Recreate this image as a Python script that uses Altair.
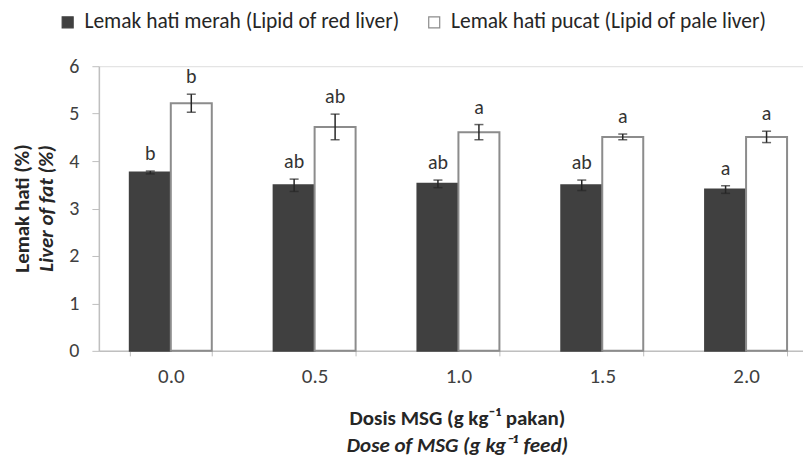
import altair as alt
import pandas as pd

doses = ["0.0", "0.5", "1.0", "1.5", "2.0"]
series_names = ["Lemak hati merah (Lipid of red liver)", "Lemak hati pucat (Lipid of pale liver)"]
red = [3.76, 3.49, 3.52, 3.49, 3.40]
red_err = [0.03, 0.13, 0.08, 0.11, 0.08]
pale = [5.22, 4.72, 4.61, 4.51, 4.51]
pale_err = [0.19, 0.27, 0.16, 0.06, 0.12]
red_letters = ["b", "ab", "ab", "ab", "a"]
pale_letters = ["b", "ab", "a", "a", "a"]
y_ticks = [0, 1, 2, 3, 4, 5, 6]
y_title = ["Lemak hati (%)", "Liver of fat (%)"]
x_title = ["Dosis MSG (g kg\u207b\u00b9 pakan)", "Dose of MSG (g kg\u207b\u00b9 feed)"]

FONT = "Carlito, 'Liberation Sans Narrow', 'Open Sans', sans-serif"

rows = []
for i, d in enumerate(doses):
    rows.append({"dose": d, "series": series_names[0], "val": red[i], "lo": red[i] - red_err[i],
                 "hi": red[i] + red_err[i], "letter": red_letters[i]})
    rows.append({"dose": d, "series": series_names[1], "val": pale[i], "lo": pale[i] - pale_err[i],
                 "hi": pale[i] + pale_err[i], "letter": pale_letters[i]})
df = pd.DataFrame(rows)

W, H = 705, 285

xs = alt.X("dose:N", sort=doses,
           scale=alt.Scale(range=[0, 720], paddingInner=0.43, paddingOuter=0.215),
           axis=alt.Axis(title=None, labelAngle=0, tickBand="extent"))
xoff = alt.XOffset("series:N", sort=series_names, scale=alt.Scale(paddingInner=0, paddingOuter=0))
yscale = alt.Scale(domain=[0, 6], nice=False)
yaxis = alt.Axis(title=None, values=y_ticks, grid=False)

base = alt.Chart(df)

bars = base.mark_bar(strokeWidth=2).encode(
    x=xs,
    xOffset=xoff,
    y=alt.Y("val:Q", scale=yscale, axis=yaxis),
    fill=alt.Fill("series:N", sort=series_names,
                  scale=alt.Scale(domain=series_names, range=["#404040", "#ffffff"]),
                  legend=alt.Legend(title=None, orient="none", legendX=-42, legendY=-55,
                                    direction="horizontal", symbolType="square", symbolSize=121,
                                    labelFontSize=21.5, labelFont=FONT, labelColor="#262626",
                                    labelLimit=500, columnPadding=24, labelOffset=6,
                                    symbolStrokeWidth=1.2)),
    stroke=alt.Stroke("series:N", sort=series_names,
                      scale=alt.Scale(domain=series_names, range=["#404040", "#8c8c8c"]),
                      legend=None),
)

err = base.mark_rule(color="#262626", strokeWidth=1.5).encode(
    x=xs, xOffset=xoff, y=alt.Y("lo:Q", scale=yscale, axis=yaxis), y2="hi:Q")
cap_hi = base.mark_tick(color="#262626", thickness=1.5, size=9).encode(
    x=xs, xOffset=xoff, y=alt.Y("hi:Q", scale=yscale, axis=yaxis))
cap_lo = base.mark_tick(color="#262626", thickness=1.5, size=9).encode(
    x=xs, xOffset=xoff, y=alt.Y("lo:Q", scale=yscale, axis=yaxis))

letters = base.mark_text(fontSize=20, font=FONT, color="#333333", baseline="bottom", dy=-7).encode(
    x=xs, xOffset=xoff, y=alt.Y("hi:Q", scale=yscale, axis=yaxis), text="letter:N")

yt = pd.DataFrame({"t": y_title})
ytitle1 = alt.Chart(yt.iloc[[0]]).mark_text(fontSize=21, font=FONT, fontWeight="bold", angle=270,
                                            color="#262626").encode(
    x=alt.value(-76), y=alt.value(H / 2), text="t:N")
ytitle2 = alt.Chart(yt.iloc[[1]]).mark_text(fontSize=21, font=FONT, fontWeight="bold", fontStyle="italic",
                                            angle=270, color="#262626").encode(
    x=alt.value(-52), y=alt.value(H / 2), text="t:N")

xt = pd.DataFrame({"t": x_title})
xtitle1 = alt.Chart(xt.iloc[[0]]).mark_text(fontSize=21, font=FONT, fontWeight="bold",
                                            color="#262626").encode(
    x=alt.value(359), y=alt.value(353), text="t:N")
xtitle2 = alt.Chart(xt.iloc[[1]]).mark_text(fontSize=21, font=FONT, fontWeight="bold", fontStyle="italic",
                                            color="#262626").encode(
    x=alt.value(359), y=alt.value(380), text="t:N")

chart = alt.layer(bars, err, cap_hi, cap_lo, letters, ytitle1, ytitle2, xtitle1, xtitle2).properties(
    width=W, height=H,
    autosize=alt.AutoSizeParams(type="none"),
    padding={"left": 91, "top": 58, "right": 0, "bottom": 107},
).configure_view(stroke=None).configure(background="white").configure_axis(
    labelFont=FONT, labelColor="#404040", tickColor="#bfbfbf", domainColor="#bfbfbf",
    domainWidth=1.5, grid=False
).configure_axisX(
    labelFontSize=21, labelPadding=10, tickSize=5
).configure_axisY(
    labelFontSize=20, labelPadding=13, tickSize=7
)

chart.save("out.html", embed_options={"renderer": "svg", "actions": False})
